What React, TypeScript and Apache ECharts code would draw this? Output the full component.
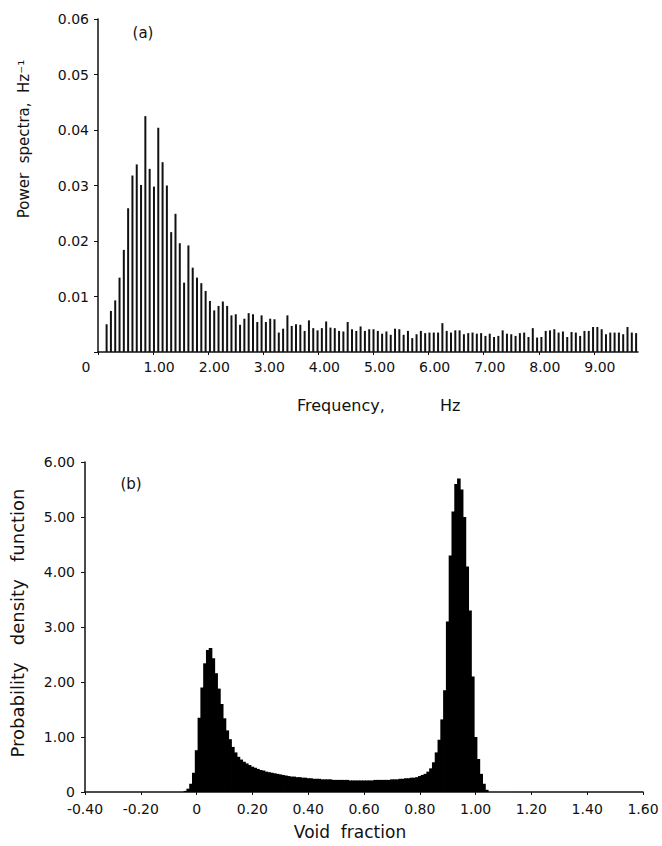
import React, { useEffect, useRef } from "react";
import * as echarts from "echarts";

// (a) power spectrum: one value per frequency bin, starting at bin FIRST_BIN
const FREQ_STEP = 0.078125; // Hz per bin
const FIRST_BIN = 2;
const PSD_LOW = [
  0.005, 0.0074, 0.0093, 0.0134, 0.0184, 0.0259, 0.0318, 0.0338, 0.0301, 0.0425,
  0.033, 0.0298, 0.0404, 0.0342, 0.03, 0.0216, 0.0249, 0.0196, 0.0125, 0.0192,
  0.0152, 0.0134, 0.0124, 0.011, 0.0092, 0.0075, 0.0083, 0.0091, 0.0083, 0.0066,
  0.0068, 0.0049, 0.006, 0.007, 0.0068, 0.0054, 0.0066, 0.0054, 0.006, 0.0059,
  0.0035, 0.0042, 0.0066, 0.0047, 0.005, 0.0049, 0.0038, 0.0057, 0.0043, 0.0039,
  0.0043, 0.0055,
];
const PSD_MID = [
  0.0044, 0.0043, 0.0038, 0.0037, 0.0054, 0.0041, 0.0038, 0.0046, 0.0038, 0.0041,
  0.0041, 0.0038, 0.0033, 0.0037, 0.0031, 0.0042, 0.0041, 0.0031, 0.0038, 0.0025,
  0.0032, 0.0038, 0.0034, 0.0035, 0.0035, 0.0035, 0.0052, 0.0038, 0.0035, 0.0039,
  0.0039, 0.0032, 0.0034, 0.0035, 0.0033, 0.0034,
];
const PSD_HIGH = [
  0.0029, 0.0033, 0.0027, 0.0029, 0.0039, 0.0033, 0.0032, 0.0029, 0.0034, 0.0035,
  0.0027, 0.0043, 0.0026, 0.0027, 0.0038, 0.0039, 0.0041, 0.0035, 0.0037, 0.0027,
  0.0036, 0.0035, 0.0029, 0.0038, 0.0038, 0.0045, 0.0045, 0.0041, 0.0032, 0.0035,
  0.0035, 0.0035, 0.0032, 0.0045, 0.0035, 0.0034,
];

// (b) probability density of void fraction, bins of VOID_STEP from VOID_START
const VOID_START = -0.04;
const VOID_STEP = 0.01;
const PDF_VALUES = [
  0.02, 0.06, 0.15, 0.35, 0.76, 1.35, 1.9, 2.34, 2.58, 2.62,
  2.43, 2.16, 1.88, 1.6, 1.34, 1.12, 0.96, 0.82, 0.72, 0.64,
  0.59, 0.55, 0.52, 0.49, 0.46, 0.44, 0.42, 0.4, 0.39, 0.37,
  0.36, 0.35, 0.34, 0.33, 0.32, 0.31, 0.3, 0.29, 0.28, 0.28,
  0.27, 0.27, 0.26, 0.26, 0.25, 0.25, 0.24, 0.24, 0.24, 0.23,
  0.23, 0.23, 0.23, 0.22, 0.22, 0.22, 0.22, 0.22, 0.22, 0.21,
  0.21, 0.21, 0.21, 0.21, 0.21, 0.21, 0.21, 0.21, 0.22, 0.22,
  0.22, 0.22, 0.22, 0.22, 0.23, 0.23, 0.23, 0.24, 0.24, 0.25,
  0.25, 0.26, 0.26, 0.27, 0.29, 0.31, 0.33, 0.37, 0.43, 0.54,
  0.72, 0.95, 1.32, 1.85, 3.1, 4.3, 5.1, 5.6, 5.7, 5.5,
  5.0, 4.1, 3.3, 2.1, 1.0, 0.6, 0.33, 0.15, 0.04, 0.0,
];

const FONT = "DejaVu Sans";
const INK = "#111";

function fmt2(v: number): string {
  return Math.abs(v) < 1e-9 ? "0" : v.toFixed(2);
}

function txt(text: string, x: number, y: number, size: number, align = "center", rotation = 0) {
  return {
    type: "text",
    x,
    y,
    rotation,
    style: {
      text,
      font: `${size}px "${FONT}"`,
      fill: INK,
      align,
      verticalAlign: "middle",
    },
  };
}

export default function App() {
  const ref = useRef<HTMLDivElement>(null);

  useEffect(() => {
    document.body.style.margin = "0";
    if (!ref.current) return;
    const chart = echarts.init(ref.current, undefined, { renderer: "svg" });

    const spectrum = [...PSD_LOW, ...PSD_MID, ...PSD_HIGH].map((v, i) => [
      (FIRST_BIN + i) * FREQ_STEP,
      v,
    ]);
    const pdf = PDF_VALUES.map((v, i) => [
      Math.round((VOID_START + i * VOID_STEP) * 1000) / 1000,
      v,
    ]);

    const axisLine = { show: true, onZero: false, lineStyle: { color: INK, width: 1.5 } };
    const axisTick = { show: true, length: 3, lineStyle: { color: INK, width: 1 } };
    const label = { color: INK, fontFamily: FONT, fontSize: 14 };

    chart.setOption({
      animation: false,
      backgroundColor: "#fff",
      grid: [
        { left: 98, right: 24, top: 19, bottom: 494 },
        { left: 85, right: 19, top: 462, bottom: 54 },
      ],
      xAxis: [
        {
          gridIndex: 0,
          type: "value",
          min: 0,
          max: 9.8,
          interval: 1,
          axisLine,
          axisTick,
          splitLine: { show: false },
          axisLabel: {
            ...label,
            margin: 8,
            padding: [0, 0, 0, 12],
            showMaxLabel: false,
            formatter: (v: number) => (Math.abs(v) < 1e-9 ? "{z|0}" : v.toFixed(2)),
            rich: { z: { ...label, padding: [0, 36, 0, 0] } },
          },
        },
        {
          gridIndex: 1,
          type: "value",
          min: -0.4,
          max: 1.6,
          interval: 0.2,
          axisLine,
          axisTick,
          splitLine: { show: false },
          axisLabel: { ...label, margin: 10, formatter: fmt2 },
        },
      ],
      yAxis: [
        {
          gridIndex: 0,
          type: "value",
          min: 0,
          max: 0.06,
          interval: 0.01,
          axisLine,
          axisTick: { ...axisTick, length: 4 },
          splitLine: { show: false },
          axisLabel: {
            ...label,
            margin: 9,
            formatter: (v: number) => (Math.abs(v) < 1e-9 ? "" : v.toFixed(2)),
          },
        },
        {
          gridIndex: 1,
          type: "value",
          min: 0,
          max: 6,
          interval: 1,
          axisLine,
          axisTick: { ...axisTick, length: 4 },
          splitLine: { show: false },
          axisLabel: { ...label, margin: 10, formatter: fmt2 },
        },
      ],
      series: [
        {
          type: "bar",
          xAxisIndex: 0,
          yAxisIndex: 0,
          data: spectrum,
          barWidth: 2,
          itemStyle: { color: INK },
        },
        {
          type: "bar",
          xAxisIndex: 1,
          yAxisIndex: 1,
          data: pdf,
          barWidth: 3.6,
          itemStyle: { color: "#000" },
        },
      ],
      graphic: [
        txt("(a)", 143, 33, 15),
        txt("(b)", 131, 484, 15),
        txt("Frequency,", 297, 405, 16, "left"),
        txt("Hz", 440, 405, 16, "left"),
        txt("Void  fraction", 350, 832, 17),
        txt("Power  spectra,  Hz⁻¹", 24, 139, 15, "center", Math.PI / 2),
        txt("Probability   density   function", 17, 623, 18, "center", Math.PI / 2),
      ],
    });

    return () => chart.dispose();
  }, []);

  return <div ref={ref} style={{ width: 662, height: 846 }} />;
}
